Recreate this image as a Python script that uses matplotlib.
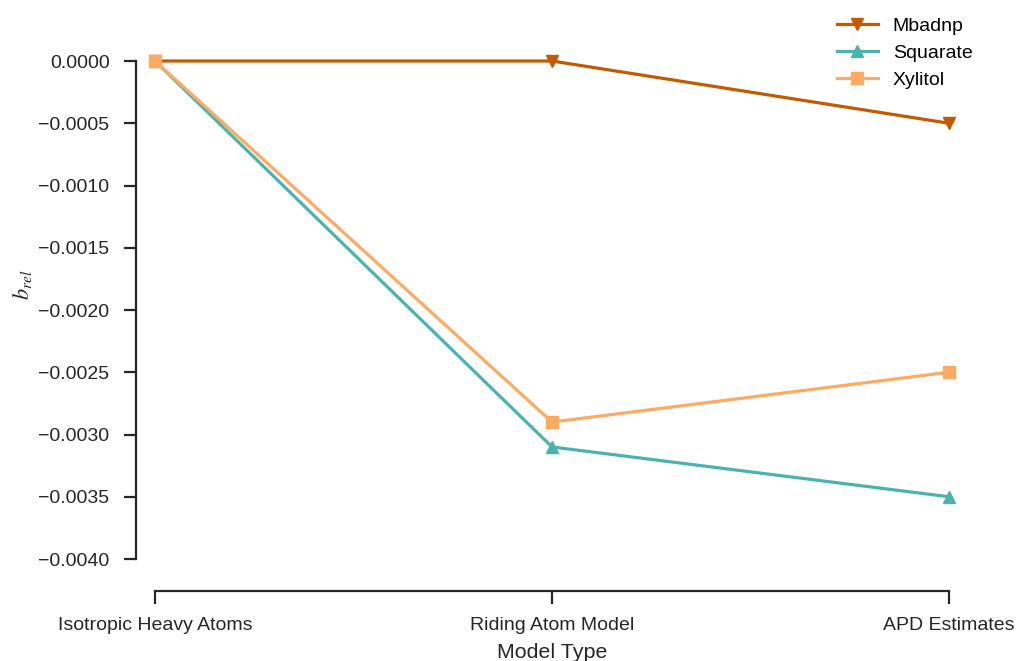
import matplotlib
matplotlib.use("Agg")
import matplotlib.pyplot as plt

plt.rcParams['font.family'] = ['Liberation Sans', 'DejaVu Sans']
plt.rcParams['mathtext.fontset'] = 'stix'

categories = ["Isotropic Heavy Atoms", "Riding Atom Model", "APD Estimates"]
mbadnp = [0.0, 0.0, -0.0005]
squarate = [0.0, -0.0031, -0.0035]
xylitol = [0.0, -0.0029, -0.0025]
yticks = [0.0, -0.0005, -0.0010, -0.0015, -0.0020, -0.0025, -0.0030, -0.0035, -0.0040]

W, H = 1016, 661
fig = plt.figure(figsize=(W / 100, H / 100), dpi=100)
left, right = 155, 949
ymin, ymax = -0.0041, 0.0005
px_per_unit = (559 - 61) / 0.004
top = 61 - (ymax - 0.0) * px_per_unit
bottom = 559 + (-0.004 - ymin) * px_per_unit
ax = fig.add_axes([left / W, 1 - bottom / H, (right - left) / W, (bottom - top) / H])

x = list(range(len(categories)))
series = [
    ("Mbadnp", mbadnp, "#c45a00", "v"),
    ("Squarate", squarate, "#4ab3ae", "^"),
    ("Xylitol", xylitol, "#fdaa62", "s"),
]
for name, vals, color, marker in series:
    ax.plot(x, vals, color=color, marker=marker, lw=2.3, ms=9,
            label=name, clip_on=False)

ax.set_xlim(0, 2)
ax.set_ylim(ymin, ymax)
ax.set_xticks(x)
ax.set_xticklabels(categories)
ax.set_yticks(yticks)
ax.set_yticklabels([f"{v:.4f}".replace("-", "\u2212") if v != 0 else "0.0000" for v in yticks])

for s in ["top", "right"]:
    ax.spines[s].set_visible(False)
ax.spines["left"].set_position(("outward", 19 * 0.72))
ax.spines["bottom"].set_position(("outward", (591 - bottom) * 0.72))
ax.spines["left"].set_bounds(-0.004, 0.0)
ax.spines["bottom"].set_bounds(0, 2)
for s in ["left", "bottom"]:
    ax.spines[s].set_linewidth(1.6)
    ax.spines[s].set_color("#262626")
ax.tick_params(axis="both", length=9, width=1.6, pad=10, labelsize=14,
               color="#262626", labelcolor="#262626")

ax.set_xlabel("Model Type", fontsize=15.4, color="#262626", labelpad=6)
ax.set_ylabel(r"$b_{rel}$", fontsize=16, color="#262626", labelpad=3.5)

ax.legend(loc="upper left", bbox_to_anchor=(837 / W, 1 - 17 / H),
          bbox_transform=fig.transFigure, frameon=False, fontsize=14,
          borderaxespad=0, borderpad=0, handlelength=2.1, handletextpad=0.77,
          labelspacing=0.5)

fig.savefig("out.png", dpi=100, facecolor="white")
